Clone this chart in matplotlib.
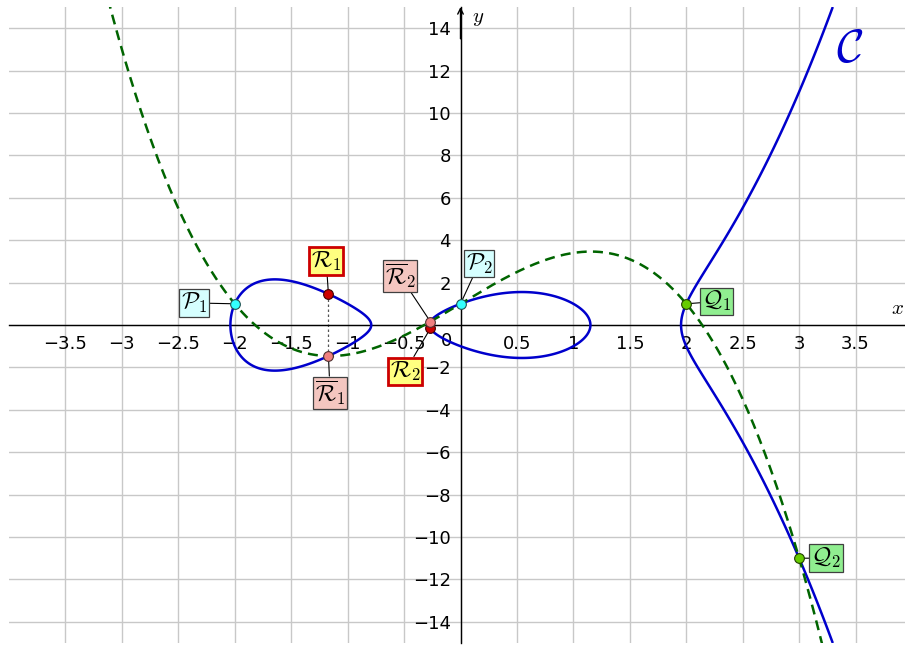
import numpy as np
import matplotlib
matplotlib.use('Agg')
import matplotlib.pyplot as plt

plt.rcParams['mathtext.fontset'] = 'cm'

# curve C : y^2 = x^5 - 5x^3 + 4x + 1 (highest power first)
curve_coeffs = [1, 0, -5, 0, 4, 1]
# dashed cubic through P1, P2, Q1, Q2
cubic_coeffs = [-0.8, 0, 3.2, 1]

# labelled points
p_x = [-2, 0]
p_y = [1, 1]
q_x = [2, 3]
q_y = [1, -11]
r_x = [-1.17, -0.267]
r_y = [1.46, -0.16]
rbar_y = [-1.46, 0.16]

p_names = [r'$\mathcal{P}_1$', r'$\mathcal{P}_2$']
q_names = [r'$\mathcal{Q}_1$', r'$\mathcal{Q}_2$']
r_names = [r'$\mathcal{R}_1$', r'$\mathcal{R}_2$']
rbar_names = [r'$\overline{\mathcal{R}}_1$', r'$\overline{\mathcal{R}}_2$']

x_ticks = [-3.5, -3, -2.5, -2, -1.5, -1, -0.5, 0, 0.5, 1, 1.5, 2, 2.5, 3, 3.5]
y_ticks = [-14, -12, -10, -8, -6, -4, -2, 0, 2, 4, 6, 8, 10, 12, 14]

fig = plt.figure(figsize=(9.05, 6.46), dpi=100)
ax = fig.add_axes([9 / 905, 3 / 646, 903 / 905, 636 / 646])
ax.set_xlim(-4, 4)
ax.set_ylim(-15, 15)

# grid + axes through the origin
ax.set_xticks(x_ticks)
ax.set_yticks(y_ticks)
ax.set_xticklabels(['' if t == 0 else ('%g' % t).replace('-', '\u2212') for t in x_ticks])
ax.set_yticklabels(['' if t == 0 else ('%g' % t).replace('-', '\u2212') for t in y_ticks])
ax.grid(True, color='#c8c8c8', lw=1.0, zorder=0)
ax.set_axisbelow(True)
for s in ['top', 'right']:
    ax.spines[s].set_visible(False)
ax.spines['bottom'].set_position(('data', 0))
ax.spines['left'].set_position(('data', 0))
ax.spines['bottom'].set_linewidth(1.0)
ax.spines['left'].set_linewidth(1.0)
ax.tick_params(length=0, labelsize=13, pad=7)
ax.text(-0.12, -0.35, '0', fontsize=13, ha='center', va='top')
ax.annotate('', xy=(0, 15), xytext=(0, 13.5),
            arrowprops=dict(arrowstyle='->', lw=1.0, color='black', shrinkA=0, shrinkB=0))
ax.text(3.87, 0.35, '$x$', fontsize=15, ha='center', va='bottom')
ax.text(0.1, 14.5, '$y$', fontsize=15, ha='left', va='center')

# curve C (implicit)
xs = np.linspace(-4, 4, 1600)
ys = np.linspace(-15, 15, 1600)
X, Y = np.meshgrid(xs, ys)
F = Y ** 2 - np.polyval(curve_coeffs, X)
ax.contour(X, Y, F, levels=[0], colors='#0000cc', linewidths=1.8, zorder=3)
ax.text(3.45, 13.0, r'$\mathcal{C}$', fontsize=34, color='#0000cc', ha='center', va='center')

# cubic
xc = np.linspace(-4, 4, 800)
ax.plot(xc, np.polyval(cubic_coeffs, xc), color='#006400', lw=1.8, ls=(0, (4, 2.5)), zorder=4)

# dotted line R1 - R1bar
ax.plot([r_x[0], r_x[0]], [r_y[0], rbar_y[0]], color='#555555', lw=0.9, ls=(0, (2, 2)), zorder=2)

# label boxes
p_pos = [(-2.36, 1.04), (0.165, 2.9)]
q_pos = [(2.27, 1.11), (3.24, -11.0)]
r_pos = [(-1.19, 3.02), (-0.49, -2.19)]
rbar_pos = [(-1.155, -3.2), (-0.535, 2.31)]


def label(name, pt, pos, fc, ec, elw):
    ax.annotate(name, xy=pt, xytext=pos, fontsize=17, ha='center', va='center',
                bbox=dict(boxstyle='square,pad=0.08', fc=fc, ec=ec, lw=elw),
                arrowprops=dict(arrowstyle='-', color='black', lw=0.8, shrinkA=0, shrinkB=3),
                zorder=6)


for i in range(2):
    label(p_names[i], (p_x[i], p_y[i]), p_pos[i], '#d6ffff', '#404040', 0.9)
    label(q_names[i], (q_x[i], q_y[i]), q_pos[i], '#90ee90', '#404040', 0.9)
    label(r_names[i], (r_x[i], r_y[i]), r_pos[i], '#ffff80', '#cc0000', 2.0)
    label(rbar_names[i], (r_x[i], rbar_y[i]), rbar_pos[i], '#f4c6c0', '#404040', 0.9)

# points
ax.plot(p_x, p_y, 'o', ms=7, mfc='#33ffff', mec='#205050', mew=0.8, zorder=7)
ax.plot(q_x, q_y, 'o', ms=7, mfc='#66cc00', mec='#204000', mew=0.8, zorder=7)
ax.plot(r_x, r_y, 'o', ms=7, mfc='#cc0000', mec='#400000', mew=0.8, zorder=7)
ax.plot(r_x, rbar_y, 'o', ms=7, mfc='#f08080', mec='#503030', mew=0.8, zorder=7)

fig.savefig('out.png', dpi=100)
